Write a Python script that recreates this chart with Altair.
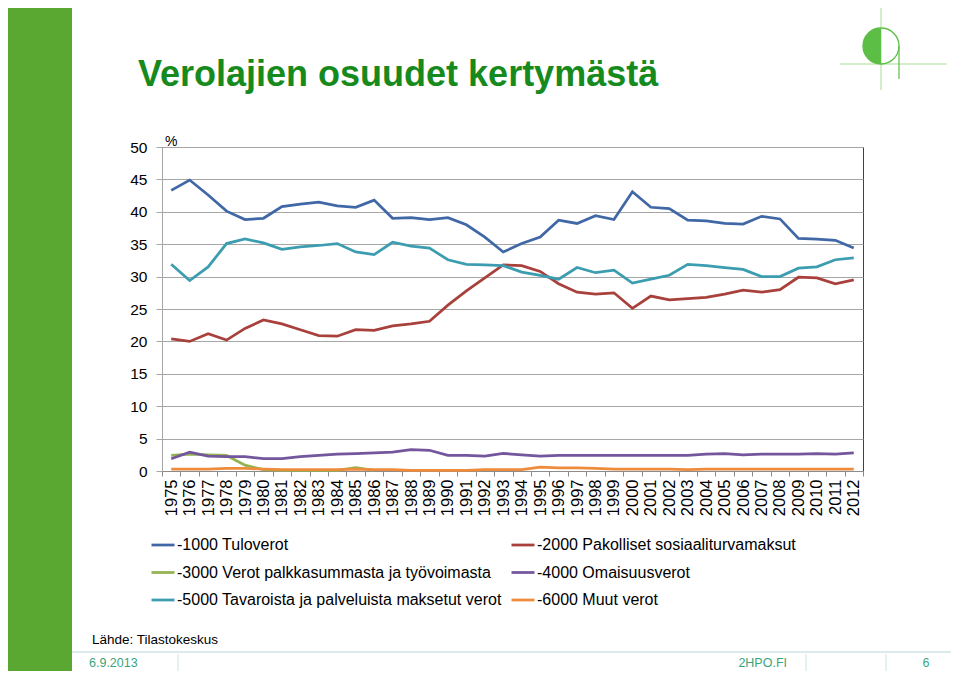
import math
import altair as alt
import pandas as pd

years = list(range(1975, 2013))

series_names = [
    "-1000 Tuloverot",
    "-2000 Pakolliset sosiaaliturvamaksut",
    "-3000 Verot palkkasummasta ja työvoimasta",
    "-4000 Omaisuusverot",
    "-5000 Tavaroista ja palveluista maksetut verot",
    "-6000 Muut verot",
]
series_colors = ["#4068A6", "#A8403C", "#92B350", "#74569C", "#3C9DB0", "#EE8C3C"]

tuloverot = [43.3, 44.9, 42.6, 40.1, 38.8, 39.0, 40.8, 41.2, 41.5, 40.9,
             40.7, 41.8, 39.0, 39.1, 38.8, 39.1, 38.0, 36.1, 33.8, 35.1,
             36.1, 38.7, 38.2, 39.4, 38.8, 43.1, 40.7, 40.5, 38.7, 38.6,
             38.2, 38.1, 39.3, 38.9, 35.9, 35.8, 35.6, 34.4]
pakolliset = [20.4, 20.0, 21.2, 20.2, 22.0, 23.3, 22.7, 21.8, 20.9, 20.8,
              21.8, 21.7, 22.4, 22.7, 23.1, 25.6, 27.8, 29.8, 31.8, 31.7,
              30.8, 28.9, 27.6, 27.3, 27.5, 25.1, 27.0, 26.4, 26.6, 26.8,
              27.3, 27.9, 27.6, 28.0, 29.9, 29.8, 28.9, 29.5]
palkkasumma = [2.4, 2.6, 2.5, 2.4, 0.9, 0.2, 0.1, 0.1, 0.1, 0.1,
               0.5, 0.1] + [None] * 26
omaisuus = [1.9, 2.9, 2.3, 2.2, 2.2, 1.9, 1.9, 2.2, 2.4, 2.6,
            2.7, 2.8, 2.9, 3.3, 3.2, 2.4, 2.4, 2.3, 2.7, 2.5,
            2.3, 2.4, 2.4, 2.4, 2.4, 2.4, 2.4, 2.4, 2.4, 2.6,
            2.7, 2.5, 2.6, 2.6, 2.6, 2.7, 2.6, 2.8]
tavarat = [31.9, 29.4, 31.5, 35.1, 35.8, 35.2, 34.2, 34.6, 34.8, 35.1,
           33.8, 33.4, 35.3, 34.7, 34.4, 32.6, 31.9, 31.8, 31.7, 30.7,
           30.2, 29.6, 31.4, 30.6, 31.0, 29.0, 29.6, 30.2, 31.9, 31.7,
           31.4, 31.1, 30.0, 30.0, 31.3, 31.5, 32.6, 32.9]
muut = [0.3, 0.3, 0.3, 0.4, 0.4, 0.3, 0.2, 0.2, 0.2, 0.2,
        0.3, 0.2, 0.2, 0.1, 0.1, 0.1, 0.1, 0.2, 0.2, 0.2,
        0.6, 0.5, 0.5, 0.4, 0.3, 0.3, 0.3, 0.3, 0.2, 0.3,
        0.3, 0.3, 0.3, 0.3, 0.3, 0.3, 0.3, 0.3]

y_ticks = list(range(0, 51, 5))

title_text = "Verolajien osuudet kertymästä"
source_text = "Lähde: Tilastokeskus"
date_text = "6.9.2013"
site_text = "2HPO.FI"
page_text = "6"

rows = []
for name, vals in zip(series_names,
                      [tuloverot, pakolliset, palkkasumma, omaisuus, tavarat, muut]):
    for yr, v in zip(years, vals):
        if v is not None:
            rows.append({"Vuosi": str(yr), "Sarja": name, "Osuus": v})
df = pd.DataFrame(rows)

# legend fills column by column: order so rows read 1000|2000, 3000|4000, 5000|6000
legend_idx = [0, 2, 4, 1, 3, 5]
legend_domain = [series_names[i] for i in legend_idx]
legend_range = [series_colors[i] for i in legend_idx]

one = pd.DataFrame({"k": [0]})
W, H = 701, 324

lines = alt.Chart(df).mark_line(strokeWidth=2.75).encode(
    x=alt.X("Vuosi:O",
            scale=alt.Scale(type="band", paddingInner=0, paddingOuter=0),
            bandPosition=0.5,
            axis=alt.Axis(title=None, labelAngle=-90, labelFontSize=16.5,
                          labelColor="#000", tickBand="extent", tickSize=5,
                          tickColor="#8C8C8C", domainColor="#8C8C8C",
                          labelPadding=3, grid=False)),
    y=alt.Y("Osuus:Q", scale=alt.Scale(domain=[0, 50], nice=False),
            axis=alt.Axis(title=None, values=y_ticks, labelFontSize=15.5,
                          labelColor="#000", tickSize=6, labelPadding=9,
                          gridColor="#A6A6A6", domainColor="#A6A6A6",
                          tickColor="#A6A6A6")),
    color=alt.Color("Sarja:N",
                    scale=alt.Scale(domain=legend_domain, range=legend_range),
                    legend=alt.Legend(title=None, orient="none", legendX=-12,
                                      legendY=385, columns=2,
                                      symbolType="stroke", symbolSize=529,
                                      symbolStrokeWidth=2.75,
                                      labelFontSize=16, labelColor="#000",
                                      rowPadding=6.5, columnPadding=4,
                                      labelOffset=1, padding=0,
                                      labelLimit=600)),
)


def txt(text, x, y, size, color="#000", weight="normal", align="left"):
    return alt.Chart(one).mark_text(
        text=text, fontSize=size, color=color, fontWeight=weight,
        align=align, baseline="alphabetic"
    ).encode(x=alt.value(x), y=alt.value(y))


def rule(x1, y1, x2, y2, color, width=1.0):
    return alt.Chart(one).mark_rule(color=color, strokeWidth=width).encode(
        x=alt.value(x1), y=alt.value(y1), x2=alt.value(x2), y2=alt.value(y2))


strip = alt.Chart(one).mark_rect(color="#5AA832").encode(
    x=alt.value(-154), x2=alt.value(-90), y=alt.value(-139), y2=alt.value(540))

logo_green = "#5DBE45"
logo_line = "#A9DC98"
logo = [
    rule(719, -142, 719, -57, logo_line, 1),
    rule(678, -83, 785, -83, logo_line, 1),
    rule(737, -101, 737, -68, logo_green, 1.2),
    alt.Chart(one).mark_arc(theta=math.pi, theta2=2 * math.pi, radius=18,
                            color=logo_green).encode(
        x=alt.value(719), y=alt.value(-101)),
    alt.Chart(one).mark_point(shape="circle", size=1296, filled=False,
                              stroke=logo_green, strokeWidth=1.3,
                              opacity=1).encode(
        x=alt.value(719), y=alt.value(-101)),
]

footer_color = "#3AA57A"
sep_color = "#CFE3E3"
annotations = [
    txt(title_text, -24, -61, 36, "#178A1E", "bold"),
    txt("%", 3, -1, 14),
    txt(source_text, -70, 497, 13.5),
    rule(-90, 505, 795, 505, sep_color, 1.5),
    rule(16, 507, 16, 540, sep_color, 1),
    rule(644, 507, 644, 540, sep_color, 1),
    rule(724, 507, 724, 540, sep_color, 1),
    txt(date_text, -73, 520, 12.5, footer_color),
    txt(site_text, 625, 520, 12.5, footer_color, align="right"),
    txt(page_text, 764, 520, 12.5, footer_color, align="center"),
]

chart = alt.layer(strip, *logo, lines, *annotations).properties(
    width=W, height=H,
    autosize=alt.AutoSizeParams(type="none"),
    padding={"left": 154, "top": 139, "right": 88, "bottom": 200},
).configure(font="Liberation Sans").configure_view(
    stroke="#404040", strokeWidth=1)

chart.save("out.html", embed_options={"renderer": "svg", "actions": False})
